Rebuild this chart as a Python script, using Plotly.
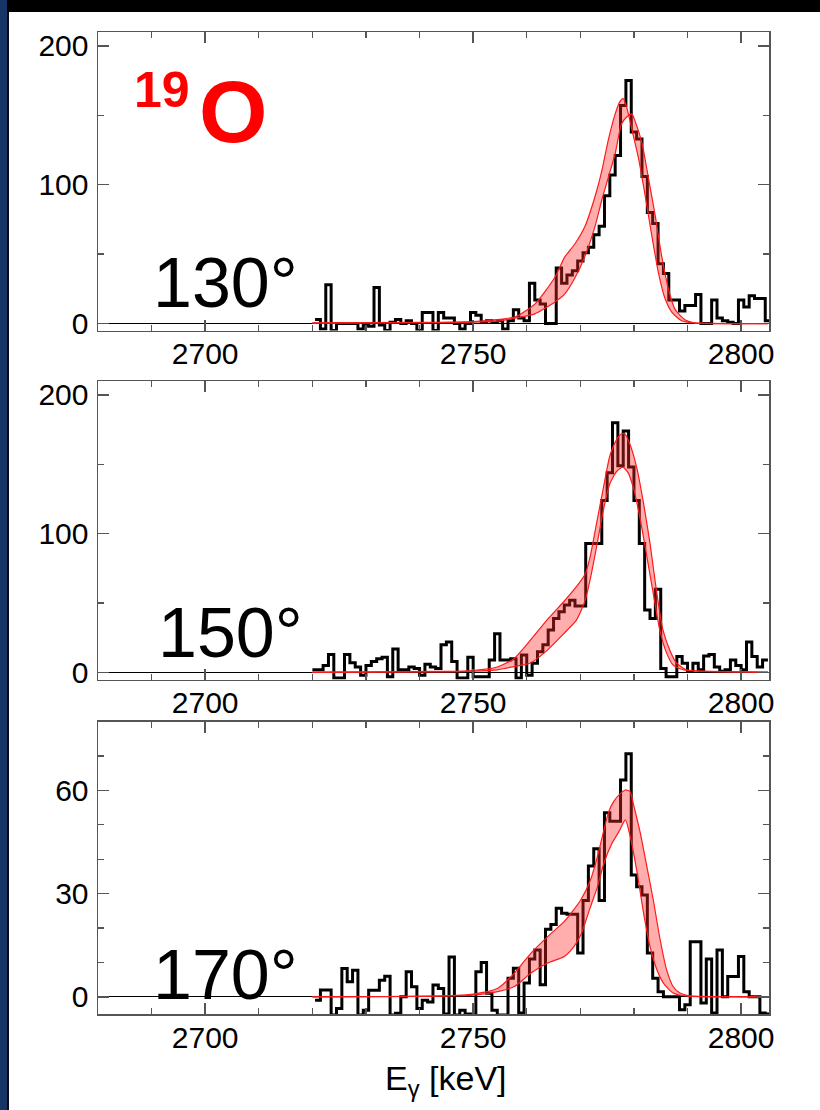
import plotly.graph_objects as go
from plotly.subplots import make_subplots

# ---------------- data ----------------
BIN_LABELS = list(range(2720, 2805))          # 1 keV bins
BIN_WIDTH = 1.0
BIN_SHIFT = [0.5, 0.0, 0.5]                    # lower-edge shift of the bins per panel (keV)
ANGLES = ["130°", "150°", "170°"]

COUNTS_130 = [3, -4, 28, -5, 0, 0, 0, 0, -4, -1,
              -2, 26, -1, -5, 1, 3, 0, 2, 0, -5,
              8, 8, -5, 8, 4, 4, 0, -4, 0, 8,
              6, 1, 2, 1, 2, -4, 2, 10, 4, 2,
              29, 17, 14, 0, 0, 40, 29, 35, 38, 45,
              51, 55, 64, 70, 92, 107, 121, 157, 175, 138,
              133, 106, 80, 72, 43, 36, 17, 17, 9, 13,
              13, 21, 0, 0, 17, 4, 2, 1, 0, 17,
              12, 20, 18, 18, 2]
COUNTS_150 = [2, 2, 5, 13, -4, -4, 13, 7, 4, -2,
              5, 8, 10, 11, -3, 17, 2, 2, 4, 3,
              -2, 6, 4, 3, 20, 22, 8, -4, -4, 11,
              -3, -3, -3, 9, 28, 9, 9, 10, -4, 12.6,
              -2, 6.7, 15, 20, 30.6, 39, 43.8, 48.6, 52, 48,
              48, 93, 93, 93, 124, 144, 180, 149, 174, 148,
              124, 93, 45, 39, 60, 3, -3, -3, 11.5, 6.7,
              0.7, 6.7, 2, 12, 13, 4, 1, 2, 9, 5,
              2, 22, 11.5, 4, 9]
COUNTS_170 = [-1, 2, 2, -5.3, -3.4, 8.2, 4.4, 7.7, -5.3, -3.9,
              1.9, 1.9, 4.8, 6, -5.3, -4.8, 0, 7.3, 2.9, -3.4,
              -1, -1.5, 3.4, 2.4, -5, 11.6, -5.3, -3.9, -5, -5.3,
              7.3, 10, 1, -3.9, -5.3, -5.3, 5.4, 8.3, -4.7, 4,
              11, 13.6, 3.5, 19.6, 21, 25.7, 24.3, 24, 24, 12.7,
              28, 38, 43, 28, 53.5, 51, 51, 63, 70.6, 35.4,
              32, 29.6, 12.7, 5.4, 1.5, 0, 0, 0, -3.8, -2.3,
              16, 16, -1.8, 11, -4.7, 13.6, 0, 5.9, 5.9, 11.7,
              1.5, 0, 0, -4.7, -5]

# fit bands: two boundary curves per panel
FIT130_A_X = [2720, 2740, 2750, 2755, 2758, 2761.5, 2765.2, 2767.1, 2769.0, 2770.8, 2772.7, 2774.0, 2775.2,
              2776.5, 2777.4, 2778.0, 2778.7, 2779.9, 2780.8, 2782.1, 2783.3, 2784.6, 2785.8, 2787.1, 2788.9,
              2791.0, 2805]
FIT130_A_Y = [0.5, 0.8, 1.5, 3, 5, 14, 33, 48, 57.5, 69.5, 91, 110, 132,
              151, 160, 162, 155, 135, 120, 92, 64, 36, 18, 8, 2,
              0.5, 0]
FIT130_B_X = [2720, 2750, 2755, 2758, 2761.5, 2765.2, 2767.1, 2769.0, 2770.8, 2772.7, 2774.0, 2775.2, 2776.5,
              2777.7, 2778.7, 2779.6, 2780.2, 2781.5, 2782.7, 2784.0, 2785.2, 2786.5, 2787.7, 2789.6, 2791.4, 2805]
FIT130_B_Y = [0.3, 1, 2, 4, 7, 15.4, 21.4, 33, 48, 69.5, 89, 105, 122.5,
              144, 149, 151, 146, 130, 105, 77, 48, 24, 10, 2.5, 0.5, 0]

FIT150_A_X = [2720, 2745, 2750, 2754.5, 2757.6, 2760.6, 2763.8, 2766.9, 2769.3, 2770.9, 2771.8, 2773.0, 2774.3,
              2775.5, 2776.8, 2777.7, 2778.3, 2779.2, 2780.5, 2781.7, 2783.0, 2784.2, 2785.4, 2786.7, 2787.9,
              2789.8, 2792.9, 2800, 2805]
FIT150_A_Y = [0.3, 0.8, 1.5, 4, 10, 23, 38, 51, 62, 71, 83, 107, 133,
              156, 168, 172, 172, 165, 148, 124, 93, 59, 31, 16, 7,
              2, 1, 0.5, 0.3]
FIT150_B_X = [2720, 2745, 2750, 2754.5, 2757.6, 2760.6, 2763.8, 2766.9, 2769.3, 2770.9, 2771.8, 2773.0, 2774.3,
              2775.5, 2776.8, 2777.9, 2778.9, 2779.9, 2781.1, 2782.3, 2783.6, 2784.8, 2786.1, 2787.3, 2789.2,
              2791.6, 2800, 2805]
FIT150_B_Y = [0.2, 0.5, 1, 2, 4.3, 6.7, 16, 28, 38, 52, 66.5, 90, 117,
              136, 145, 148, 144, 133, 112, 86, 57, 31, 14, 5.5, 2,
              1, 0.5, 0.3]

FIT170_A_X = [2720, 2745, 2750, 2754.6, 2757.7, 2760.8, 2763.9, 2767.0, 2770.1, 2771.9, 2773.2, 2774.4, 2775.3,
              2776.2, 2777.5, 2778.4, 2779.3, 2779.9, 2781.2, 2782.4, 2783.6, 2784.9, 2786.1, 2787.3, 2788.6,
              2790.4, 2800, 2805]
FIT170_A_Y = [0, 0.3, 0.8, 2.5, 6.9, 12.7, 17.5, 21.9, 28.2, 34, 40.8, 48.5, 53.8,
              56.7, 59.1, 60.1, 59.6, 56, 47.5, 37.9, 28.2, 16.5, 7.8, 3, 1.1,
              0.3, 0, 0]
FIT170_B_X = [2720, 2750, 2754.6, 2757.7, 2760.8, 2763.9, 2767.0, 2768.8, 2770.1, 2771.9, 2773.2, 2774.4, 2775.9,
              2777.2, 2778.4, 2779.3, 2780.6, 2781.8, 2783.0, 2784.3, 2785.5, 2787.3, 2790, 2805]
FIT170_B_Y = [0, 0.5, 1.5, 3, 6.9, 9.8, 11.7, 14.6, 18, 26.2, 32, 38.8, 44.6,
              48, 51.4, 46.6, 36, 24.3, 14.6, 7.8, 4, 1.1, 0.2, 0]

X_TICKS = [2700, 2750, 2800]
Y_TICKS = [[0, 100, 200], [0, 100, 200], [0, 30, 60]]
Y_MINOR = [50, 50, 10]
Y_RANGES = [[-5, 210], [-5, 210], [-5, 80]]
X_RANGE = [2680, 2805.2]

COUNTS = [COUNTS_130, COUNTS_150, COUNTS_170]
FITS = [(FIT130_A_X, FIT130_A_Y, FIT130_B_X, FIT130_B_Y),
        (FIT150_A_X, FIT150_A_Y, FIT150_B_X, FIT150_B_Y),
        (FIT170_A_X, FIT170_A_Y, FIT170_B_X, FIT170_B_Y)]

# ---------------- layout helpers (pixels -> paper) ----------------
W, H = 820, 1110
ML, MR, MT, MB = 98, 51, 31, 96
PW, PH = W - ML - MR, H - MT - MB


def px(x):
    return (x - ML) / PW


def py(y):
    return 1 - (y - MT) / PH


PANEL_PX = [(32, 330.5), (381, 679.5), (721.5, 1014)]

fig = make_subplots(rows=3, cols=1)

FONT = "Liberation Sans, Arial, Helvetica, sans-serif"
AX_COL = "#555555"

for i in range(3):
    r = i + 1
    shift = BIN_SHIFT[i]
    xs = [k + shift for k in BIN_LABELS] + [BIN_LABELS[-1] + BIN_WIDTH + shift]
    ys = COUNTS[i] + [COUNTS[i][-1]]
    fig.add_trace(go.Scatter(x=xs, y=ys, mode="lines", line=dict(color="black", width=3, shape="hv"),
                             hoverinfo="skip", showlegend=False), row=r, col=1)
    ax, ay, bx, by = FITS[i]
    fig.add_trace(go.Scatter(x=bx, y=by, mode="lines",
                             line=dict(color="#ff1a1a", width=1.2, shape="spline", smoothing=0.6),
                             hoverinfo="skip", showlegend=False), row=r, col=1)
    fig.add_trace(go.Scatter(x=ax, y=ay, mode="lines",
                             line=dict(color="#ff1a1a", width=1.2, shape="spline", smoothing=0.6),
                             fill="tonexty", fillcolor="rgba(255,40,40,0.38)",
                             hoverinfo="skip", showlegend=False), row=r, col=1)

    top, bot = PANEL_PX[i]
    fig.update_yaxes(domain=[py(bot), py(top)], row=r, col=1)
    fig.update_xaxes(range=X_RANGE, tickvals=X_TICKS, ticks="inside", ticklen=11, tickwidth=1.5,
                     tickcolor=AX_COL, showline=True, linecolor=AX_COL, linewidth=1.5, mirror="allticks",
                     showgrid=False, zeroline=False,
                     minor=dict(dtick=10, tick0=2700, ticks="inside", ticklen=6, tickwidth=1.3,
                                tickcolor=AX_COL, showgrid=False),
                     tickfont=dict(family=FONT, size=30, color="black"), ticklabelstandoff=-4,
                     row=r, col=1)
    fig.update_yaxes(range=Y_RANGES[i], tickvals=Y_TICKS[i], ticks="inside", ticklen=11, tickwidth=1.5,
                     tickcolor=AX_COL, showline=True, linecolor=AX_COL, linewidth=1.5, mirror="allticks",
                     showgrid=False, zeroline=True, zerolinecolor="black", zerolinewidth=1,
                     minor=dict(dtick=Y_MINOR[i], tick0=0, ticks="inside", ticklen=6, tickwidth=1.3,
                                tickcolor=AX_COL, showgrid=False),
                     tickfont=dict(family=FONT, size=30, color="black"), ticklabelstandoff=2,
                     row=r, col=1)

annotations = []
ANGLE_POS = [(225, 283), (230, 633), (225, 975)]
for (x, y), t in zip(ANGLE_POS, ANGLES):
    annotations.append(dict(xref="paper", yref="paper", x=px(x), y=py(y), text=t, showarrow=False,
                            xanchor="center", yanchor="middle",
                            font=dict(family=FONT, size=70, color="black")))
annotations.append(dict(xref="paper", yref="paper", x=px(162), y=py(90), text="<b>19</b>", showarrow=False,
                        xanchor="center", yanchor="middle", font=dict(family=FONT, size=50, color="#ff0000")))
annotations.append(dict(xref="paper", yref="paper", x=px(233), y=py(111), text="<b>O</b>", showarrow=False,
                        xanchor="center", yanchor="middle", font=dict(family=FONT, size=88, color="#ff0000")))
annotations.append(dict(xref="paper", yref="paper", x=px(446), y=py(1080), text="E<sub>γ</sub> [keV]",
                        showarrow=False, xanchor="center", yanchor="middle",
                        font=dict(family=FONT, size=34, color="black")))

shapes = [
    dict(type="rect", xref="paper", yref="paper", x0=px(0), x1=px(W), y0=py(12), y1=py(-5),
         fillcolor="black", line=dict(width=0), layer="above"),
    dict(type="rect", xref="paper", yref="paper", x0=px(-5), x1=px(7), y0=py(H + 5), y1=py(-5),
         fillcolor="#143566", line=dict(width=0), layer="above"),
    dict(type="rect", xref="paper", yref="paper", x0=px(7), x1=px(9), y0=py(H + 5), y1=py(12),
         fillcolor="#0a0a14", line=dict(width=0), layer="above"),
]

fig.update_layout(width=W, height=H, margin=dict(l=ML, r=MR, t=MT, b=MB, autoexpand=False),
                  paper_bgcolor="white", plot_bgcolor="white", showlegend=False,
                  annotations=annotations, shapes=shapes)

fig.write_html("out.html", config={"displayModeBar": False, "staticPlot": True},
               post_script="document.body.style.margin='0';document.body.style.padding='0';"
                           "document.body.style.overflow='hidden';")
